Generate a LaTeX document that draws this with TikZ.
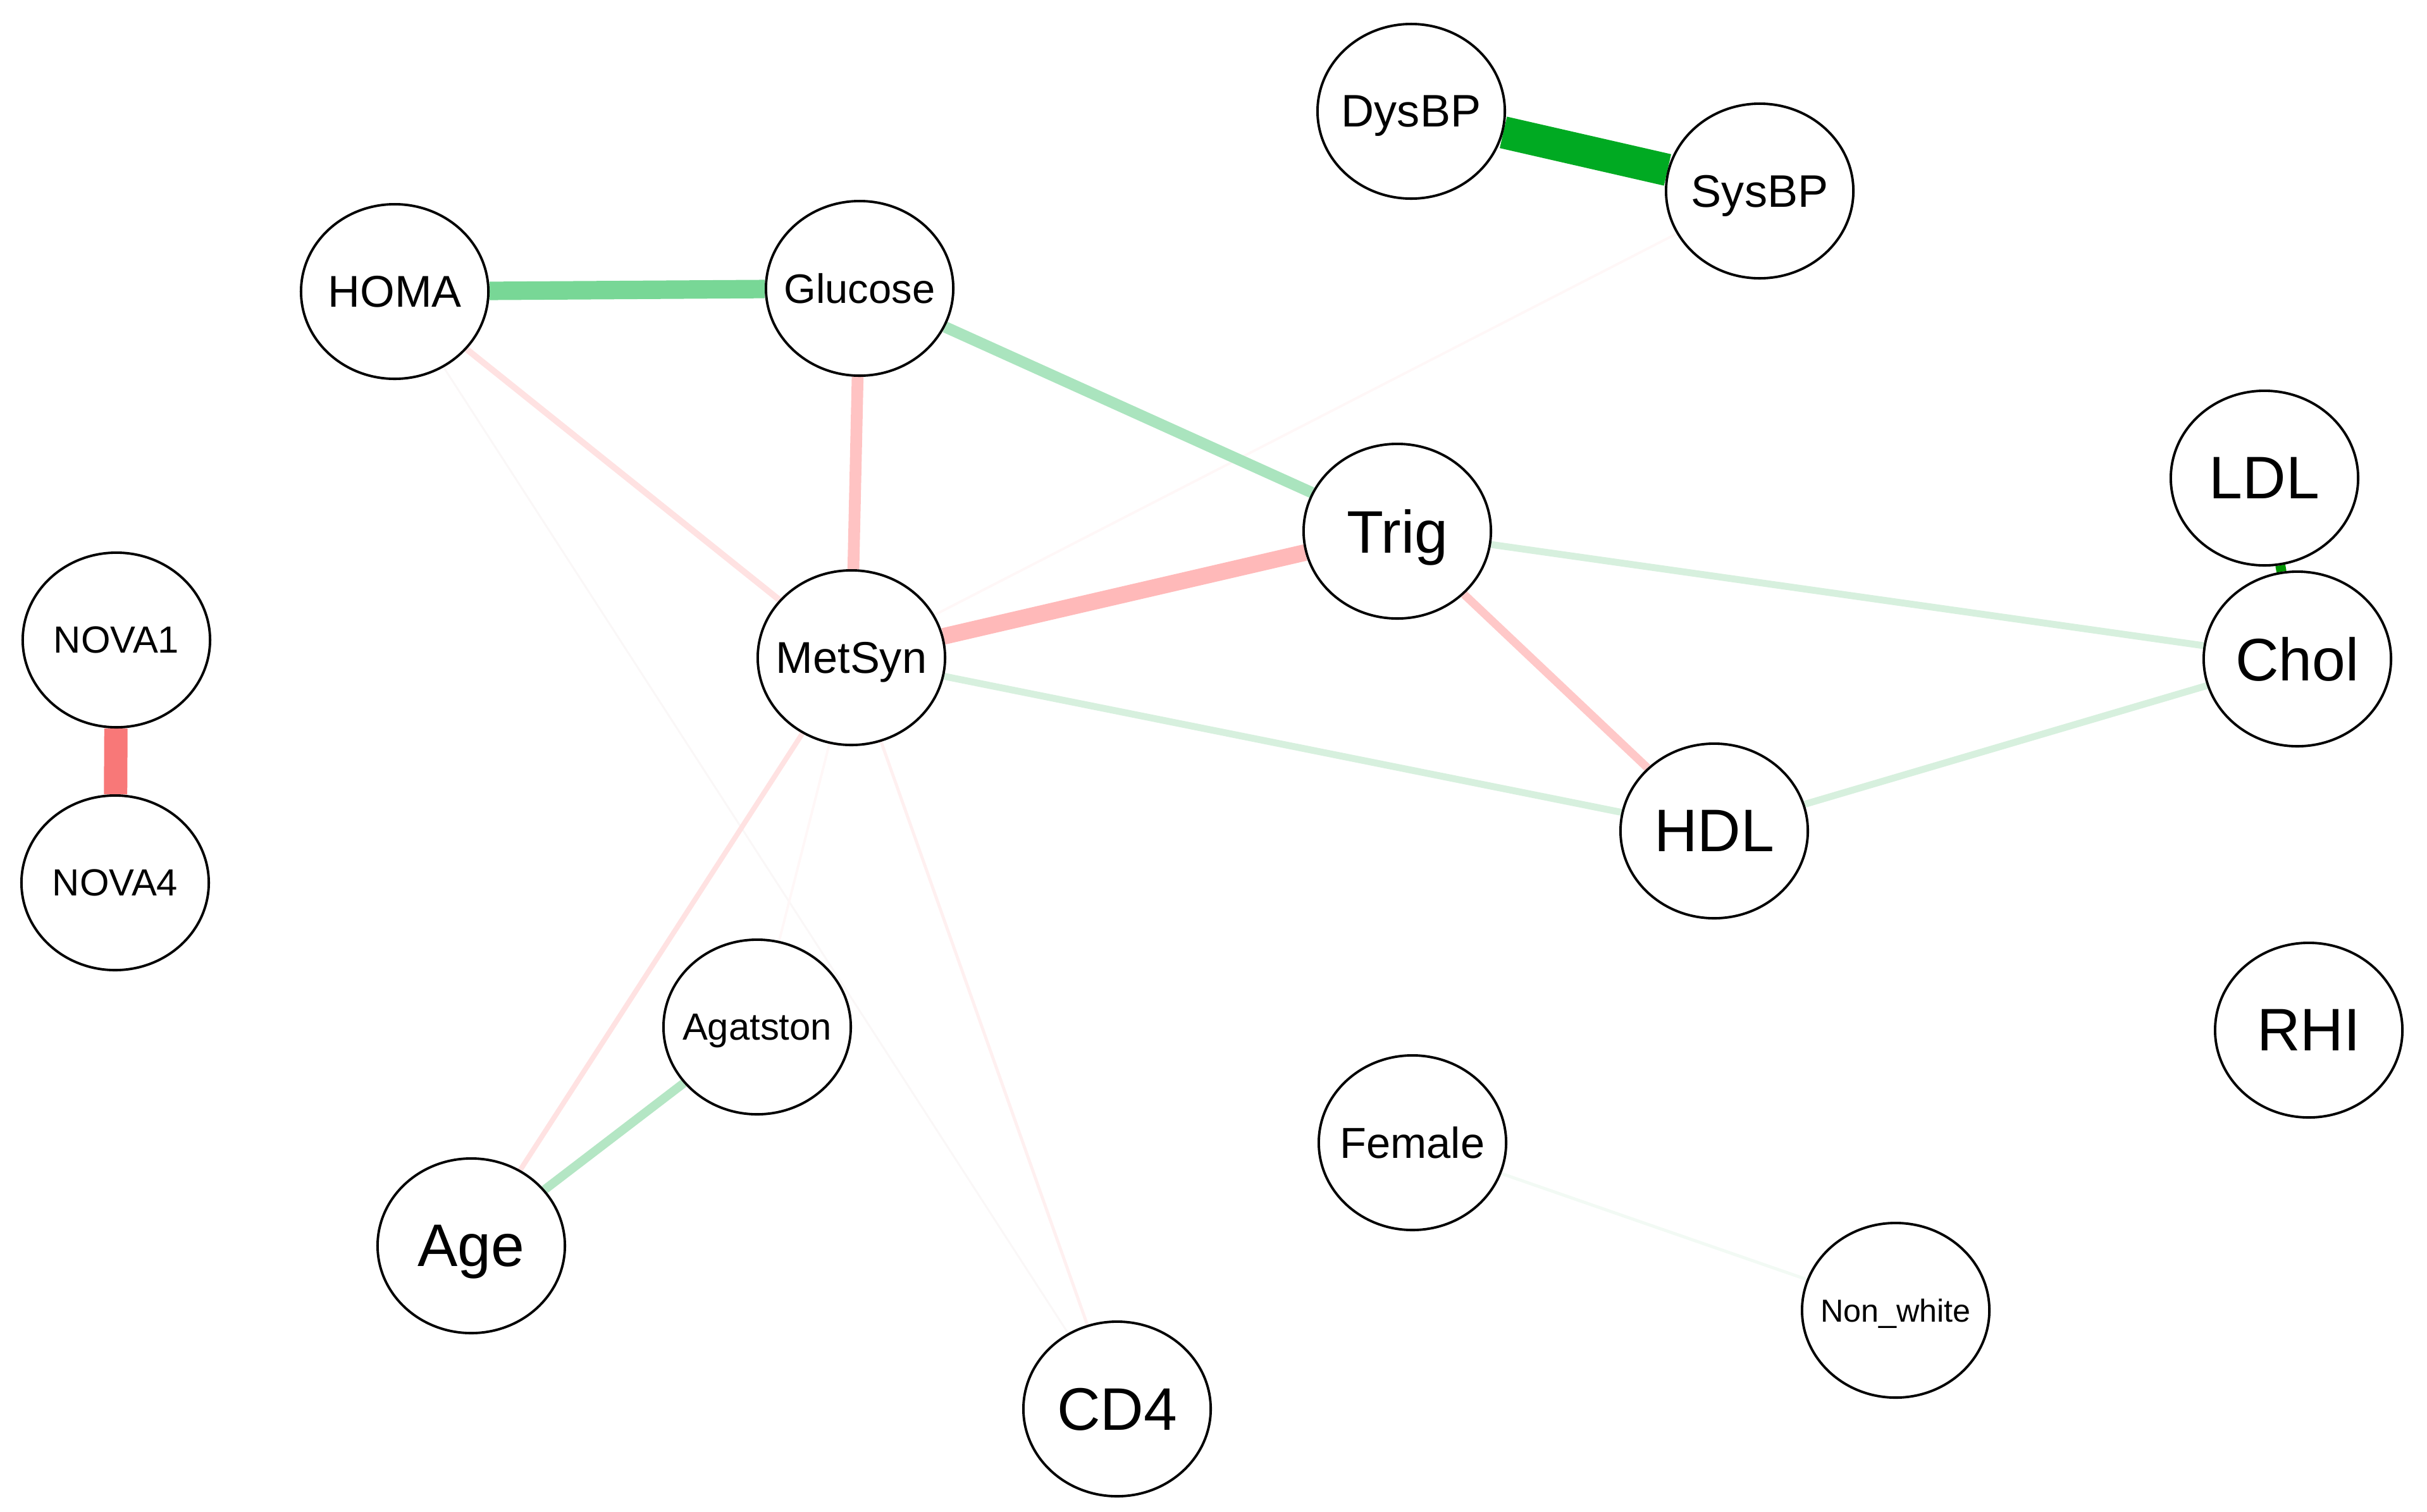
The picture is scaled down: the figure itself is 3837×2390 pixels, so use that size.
\documentclass[tikz,border=0pt]{standalone}
\usepackage{fontspec}
\setmainfont{Liberation Sans}
\usepackage{tikz}
\usetikzlibrary{shapes.geometric}
\usetikzlibrary{backgrounds}

\definecolor{bpgreen}{RGB}{0,170,34}
\definecolor{ldlgreen}{RGB}{0,150,0}
\definecolor{midgreen}{RGB}{120,215,150}
\definecolor{lightgreen}{RGB}{170,228,190}
\definecolor{agegreen}{RGB}{180,230,196}
\definecolor{palegreen}{RGB}{215,240,222}
\definecolor{faintgreen}{RGB}{242,250,244}
\definecolor{novared}{RGB}{248,120,120}
\definecolor{trigpink}{RGB}{255,185,185}
\definecolor{glupink}{RGB}{255,195,195}
\definecolor{hdlpink}{RGB}{255,200,200}
\definecolor{palepink}{RGB}{255,226,226}
\definecolor{faintpink}{RGB}{255,240,240}
\definecolor{ghostpink}{RGB}{255,247,247}
\definecolor{ghostgrey}{RGB}{250,247,247}

\newcommand{\nlab}[1]{\makebox[0pt]{#1}}

\begin{document}
\begin{tikzpicture}[x=0.01cm, y=-0.01cm]
		\tikzset{varnode/.style = {ellipse, draw, line width=1.1pt, fill=white, minimum width=2.96cm, minimum height=2.76cm, inner sep=0pt, text depth=0pt, font=\fontsize{27}{30}\selectfont}}
		\tikzset{edge/.style = {line cap=butt}}
		\useasboundingbox (0,0) rectangle (3837,2390);
		\node[varnode, font=\fontsize{20.5}{24}\selectfont] (DysBP) at (2231,176) {\nlab{DysBP}};
		\node[varnode, font=\fontsize{20.5}{24}\selectfont] (SysBP) at (2782,302) {\nlab{SysBP}};
		\node[varnode, font=\fontsize{20}{24}\selectfont] (HOMA) at (624,461) {\nlab{HOMA}};
		\node[varnode, font=\fontsize{18.5}{22}\selectfont] (Glu) at (1359,456) {\nlab{Glucose}};
		\node[varnode] (Trig) at (2209,840) {\nlab{Trig}};
		\node[varnode] (LDL) at (3580,756) {\nlab{LDL}};
		\node[varnode] (Chol) at (3632,1042) {\nlab{Chol}};
		\node[varnode, font=\fontsize{17}{20}\selectfont] (NOVA1) at (184,1012) {\nlab{NOVA1}};
		\node[varnode, font=\fontsize{17}{20}\selectfont] (NOVA4) at (182,1396) {\nlab{NOVA4}};
		\node[varnode, font=\fontsize{20}{24}\selectfont] (MetSyn) at (1346,1040) {\nlab{MetSyn}};
		\node[varnode] (HDL) at (2710,1314) {\nlab{HDL}};
		\node[varnode] (RHI) at (3650,1629) {\nlab{RHI}};
		\node[varnode, font=\fontsize{17}{20}\selectfont] (Agat) at (1197,1624) {\nlab{Agatston}};
		\node[varnode, font=\fontsize{19.5}{23}\selectfont] (Female) at (2233,1807) {\nlab{Female}};
		\node[varnode] (Age) at (745,1970) {\nlab{Age}};
		\node[varnode, font=\fontsize{14.3}{17}\selectfont] (NonW) at (2997,2072) {\nlab{Non\_white}};
		\node[varnode] (CD4) at (1766,2228) {\nlab{CD4}};
		\begin{scope}[on background layer]
			\draw[edge, line width=0.85pt, ghostgrey] (HOMA) -- (CD4);
			\draw[edge, line width=1.1pt, ghostpink] (MetSyn) -- (SysBP);
			\draw[edge, line width=1.1pt, ghostpink] (MetSyn) -- (Agat);
			\draw[edge, line width=1.4pt, faintpink] (MetSyn) -- (CD4);
			\draw[edge, line width=1.4pt, faintgreen] (Female) -- (NonW);
			\draw[edge, line width=2.3pt, palepink] (MetSyn) -- (Age);
			\draw[edge, line width=2.8pt, palepink] (HOMA) -- (MetSyn);
			\draw[edge, line width=3.1pt, palegreen] (Trig) -- (Chol);
			\draw[edge, line width=3.1pt, palegreen] (MetSyn) -- (HDL);
			\draw[edge, line width=3.1pt, palegreen] (HDL) -- (Chol);
			\draw[edge, line width=3.7pt, hdlpink] (Trig) -- (HDL);
			\draw[edge, line width=4pt, agegreen] (Age) -- (Agat);
			\draw[edge, line width=4.5pt, ldlgreen] (LDL) -- (Chol);
			\draw[edge, line width=5.3pt, glupink] (Glu) -- (MetSyn);
			\draw[edge, line width=5.1pt, lightgreen] (Glu) -- (Trig);
			\draw[edge, line width=7.5pt, trigpink] (MetSyn) -- (Trig);
			\draw[edge, line width=8.3pt, midgreen] (HOMA) -- (Glu);
			\draw[edge, line width=10.5pt, novared] (NOVA1) -- (NOVA4);
			\draw[edge, line width=14.5pt, bpgreen] (DysBP) -- (SysBP);
		\end{scope}
	\end{tikzpicture}
\end{document}
